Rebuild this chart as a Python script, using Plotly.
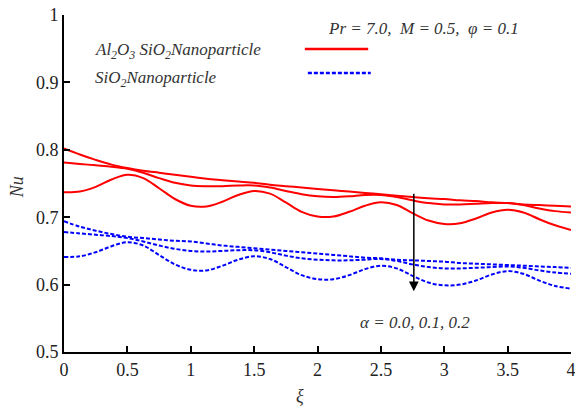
import plotly.graph_objects as go

xi = [0, 0.125, 0.25, 0.375, 0.5, 0.625, 0.75, 0.875, 1, 1.125, 1.25, 1.375, 1.5, 1.625, 1.75, 1.875,
      2, 2.125, 2.25, 2.375, 2.5, 2.625, 2.75, 2.875, 3, 3.125, 3.25, 3.375, 3.5, 3.625, 3.75, 3.875, 4]

# Al2O3-SiO2 hybrid (red solid), alpha = 0.0, 0.1, 0.2
nu_hybrid_a0 = [0.802, 0.793, 0.785, 0.778, 0.773, 0.769, 0.766, 0.763, 0.760, 0.757, 0.755, 0.753, 0.751, 0.748, 0.746, 0.744,
                0.742, 0.740, 0.738, 0.736, 0.734, 0.732, 0.730, 0.728, 0.727, 0.725, 0.724, 0.722, 0.721, 0.719, 0.718, 0.717, 0.716]
nu_hybrid_a1 = [0.781, 0.779, 0.777, 0.775, 0.772, 0.766, 0.758, 0.751, 0.747, 0.746, 0.746, 0.747, 0.747, 0.744, 0.739, 0.734,
                0.731, 0.730, 0.731, 0.733, 0.733, 0.730, 0.725, 0.721, 0.719, 0.719, 0.720, 0.721, 0.721, 0.718, 0.713, 0.709, 0.707]
nu_hybrid_a2 = [0.737, 0.738, 0.745, 0.756, 0.763, 0.758, 0.743, 0.727, 0.717, 0.716, 0.723, 0.733, 0.739, 0.735, 0.722, 0.708,
                0.701, 0.701, 0.708, 0.717, 0.722, 0.718, 0.706, 0.695, 0.690, 0.691, 0.698, 0.707, 0.711, 0.707, 0.697, 0.688, 0.681]

# SiO2 (blue dashed), alpha = 0.0, 0.1, 0.2
nu_sio2_a0 = [0.694, 0.686, 0.680, 0.675, 0.671, 0.669, 0.667, 0.665, 0.664, 0.661, 0.658, 0.656, 0.654, 0.652, 0.650, 0.648,
              0.646, 0.644, 0.642, 0.640, 0.639, 0.637, 0.636, 0.635, 0.634, 0.632, 0.631, 0.630, 0.629, 0.628, 0.627, 0.626, 0.625]
nu_sio2_a1 = [0.678, 0.676, 0.674, 0.672, 0.669, 0.664, 0.658, 0.653, 0.650, 0.649, 0.650, 0.651, 0.651, 0.648, 0.643, 0.639,
              0.637, 0.636, 0.636, 0.637, 0.638, 0.635, 0.630, 0.626, 0.624, 0.624, 0.625, 0.626, 0.627, 0.625, 0.621, 0.618, 0.616]
nu_sio2_a2 = [0.641, 0.642, 0.648, 0.657, 0.663, 0.658, 0.644, 0.630, 0.622, 0.621, 0.628, 0.637, 0.642, 0.638, 0.626, 0.614,
              0.608, 0.608, 0.614, 0.623, 0.628, 0.624, 0.613, 0.603, 0.599, 0.600, 0.606, 0.615, 0.620, 0.616, 0.606, 0.598, 0.594]

x_ticks = [0, 0.5, 1, 1.5, 2, 2.5, 3, 3.5, 4]
x_tick_labels = ["0", "0.5", "1", "1.5", "2", "2.5", "3", "3.5", "4"]
y_ticks = [0.5, 0.6, 0.7, 0.8, 0.9, 1.0]
y_tick_labels = ["0.5", "0.6", "0.7", "0.8", "0.9", "1"]

arrow_x = 2.76
arrow_from = 0.737
arrow_to = 0.590

RED = "#ff0000"
BLUE = "#0000ff"
FONT = "Liberation Serif"

fig = go.Figure()
for ys in (nu_hybrid_a0, nu_hybrid_a1, nu_hybrid_a2):
    fig.add_trace(go.Scatter(x=xi, y=ys, mode="lines",
                             line=dict(color=RED, width=2, shape="spline", smoothing=1),
                             showlegend=False, hoverinfo="skip"))
for ys in (nu_sio2_a0, nu_sio2_a1, nu_sio2_a2):
    fig.add_trace(go.Scatter(x=xi, y=ys, mode="lines",
                             line=dict(color=BLUE, width=2, dash="4px,2px", shape="spline", smoothing=1),
                             showlegend=False, hoverinfo="skip"))

axis_common = dict(showgrid=False, zeroline=False, showline=True, linecolor="black", linewidth=2,
                   ticks="inside", ticklen=6, tickwidth=1.5, tickcolor="black",
                   ticklabeloverflow="allow",
                   tickfont=dict(family=FONT, size=18, color="#222"))

fig.update_layout(
    template="none",
    width=575, height=412,
    margin=dict(l=64, r=4, t=15, b=60),
    paper_bgcolor="white", plot_bgcolor="white",
    font=dict(family=FONT, size=18, color="#222"),
    xaxis=dict(range=[0, 4], tickvals=x_ticks, ticktext=x_tick_labels, **axis_common),
    yaxis=dict(range=[0.5, 1.0], tickvals=y_ticks, ticktext=y_tick_labels, **axis_common),
)

# arrow indicating increasing alpha
fig.add_annotation(x=arrow_x, y=arrow_to, ax=arrow_x, ay=arrow_from,
                   xref="x", yref="y", axref="x", ayref="y",
                   showarrow=True, arrowhead=2, arrowsize=1.3, arrowwidth=1.5,
                   arrowcolor="black", text="")

def label(x, y, text, size=17, xanchor="center", angle=0):
    fig.add_annotation(x=x, y=y, xref="paper", yref="paper", xanchor=xanchor, yanchor="middle",
                       text=text, showarrow=False, textangle=angle,
                       font=dict(family=FONT, size=size, color="#333"))

label(0.693, 0.087, "<i>α = 0.0, 0.1, 0.2</i>")

# legend / parameters
label(0.517, 0.96, "<i>Pr = 7.0,  M = 0.5,  φ = 0.1</i>", xanchor="left")
label(0.058, 0.893, "<i>Al<sub>2</sub>O<sub>3</sub> SiO<sub>2</sub>Nanoparticle</i>", xanchor="left")
label(0.058, 0.81, "<i>SiO<sub>2</sub>Nanoparticle</i>", xanchor="left")
fig.add_shape(type="line", xref="paper", yref="paper", x0=0.475, x1=0.60, y0=0.899, y1=0.899,
              line=dict(color=RED, width=2.5))
fig.add_shape(type="line", xref="paper", yref="paper", x0=0.481, x1=0.605, y0=0.828, y1=0.828,
              line=dict(color=BLUE, width=2.5, dash="4px,2px"))

# axis titles
label(-0.092, 0.49, "<i>Nu</i>", size=18, angle=-90)
label(0.466, -0.13, "<i>ξ</i>", size=18)

fig.write_html("out.html")
